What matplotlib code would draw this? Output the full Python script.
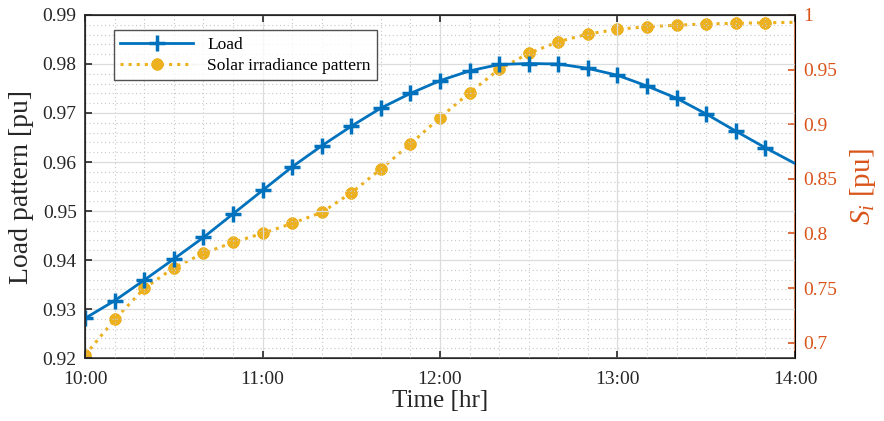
import numpy as np
import matplotlib.pyplot as plt
from matplotlib.ticker import MultipleLocator, FormatStrFormatter, FuncFormatter

plt.rcParams['font.family'] = ['Liberation Serif', 'DejaVu Serif']
plt.rcParams['mathtext.fontset'] = 'custom'
plt.rcParams['mathtext.rm'] = 'Liberation Serif'
plt.rcParams['mathtext.it'] = 'Liberation Serif:italic'

# --- data: 10-minute steps from 10:00 to 14:00 ---
time_hr = 10 + np.arange(25) / 6
load = [0.9281, 0.9317, 0.9359, 0.9402, 0.9446, 0.9494, 0.9542, 0.9590,
        0.9633, 0.9673, 0.9710, 0.9740, 0.9766, 0.9786, 0.9799, 0.9801,
        0.9800, 0.9791, 0.9777, 0.9755, 0.9730, 0.9698, 0.9663, 0.9629,
        0.9597]
solar = [0.6886, 0.7213, 0.7497, 0.7686, 0.7818, 0.7918, 0.8001, 0.8092,
         0.8193, 0.8372, 0.8590, 0.8819, 0.9061, 0.9289, 0.9503, 0.9649,
         0.9756, 0.9826, 0.9869, 0.9893, 0.9906, 0.9918, 0.9924, 0.9929,
         0.9933]
xticks = [10, 11, 12, 13, 14]
xticklabels = ["10:00", "11:00", "12:00", "13:00", "14:00"]

blue = "#0072BD"
yellow = "#EDB120"
orange = "#D95319"
axcol = "#262626"

fig = plt.figure(figsize=(8.84, 4.21), dpi=100)
ax = fig.add_axes([0.0962, 0.1496, 0.8031, 0.8148])
ax2 = ax.twinx()

l1, = ax.plot(time_hr, load, color=blue, lw=2, marker='+', ms=11, mew=2.5,
              markevery=slice(0, 24), label="Load")
l2, = ax2.plot(time_hr, solar, color=yellow, lw=2.2, ls=':', marker=(8, 2, 0),
               ms=8.5, mew=2.8, markevery=slice(0, 24), label="Solar irradiance pattern")

ax.set_xlim(10, 14)
ax.set_ylim(0.92, 0.99)
ax2.set_ylim(0.686, 1.0)

ax.set_xticks(xticks)
ax.set_xticklabels(xticklabels)
ax.xaxis.set_minor_locator(MultipleLocator(1 / 6))
ax.yaxis.set_major_locator(MultipleLocator(0.01))
ax.yaxis.set_minor_locator(MultipleLocator(0.002))
ax.yaxis.set_major_formatter(FormatStrFormatter('%.2f'))
ax2.yaxis.set_major_locator(MultipleLocator(0.05))
ax2.yaxis.set_major_formatter(FuncFormatter(lambda v, p: f"{v:g}"))

ax.grid(True, which='major', color='#dcdcdc', lw=0.9, ls='-')
ax.grid(True, which='minor', color='#c8c8c8', lw=0.8, ls=(0, (1, 2.5)))
ax.set_axisbelow(True)

ax.tick_params(axis='both', which='major', direction='in', length=5, width=1.2,
               labelsize=14, colors=axcol, top=True)
ax.tick_params(axis='y', pad=6)
ax.tick_params(axis='x', pad=9)
ax.tick_params(axis='both', which='minor', length=0)
ax2.tick_params(axis='y', which='major', direction='in', length=5, width=1.2,
                labelsize=14, colors=orange, pad=6)
ax2.tick_params(axis='y', which='minor', length=0)

for s in ['left', 'top', 'bottom']:
    ax.spines[s].set_color(axcol)
    ax2.spines[s].set_color(axcol)
    ax2.spines[s].set_linewidth(1.2)
ax2.spines['right'].set_color(orange)
ax2.spines['right'].set_linewidth(1.2)

ax.set_xlabel("Time [hr]", fontsize=18, color=axcol, labelpad=2)
ax.set_ylabel("Load pattern [pu]", fontsize=20, color=axcol, labelpad=6)
ax2.set_ylabel(r"$S_i$ [pu]", fontsize=21, color=orange, labelpad=8)

leg = ax.legend(handles=[l1, l2], loc='upper left', bbox_to_anchor=(0.041, 0.955),
                fontsize=12.5, frameon=True, fancybox=False, borderaxespad=0,
                handlelength=4.2, borderpad=0.35, labelspacing=0.3)
leg.get_frame().set_edgecolor(axcol)
leg.get_frame().set_linewidth(1)
leg.set_zorder(10)
ax.set_zorder(ax2.get_zorder() + 1)
ax.patch.set_visible(False)
ax2.patch.set_visible(True)

fig.savefig("out.png", dpi=100)
